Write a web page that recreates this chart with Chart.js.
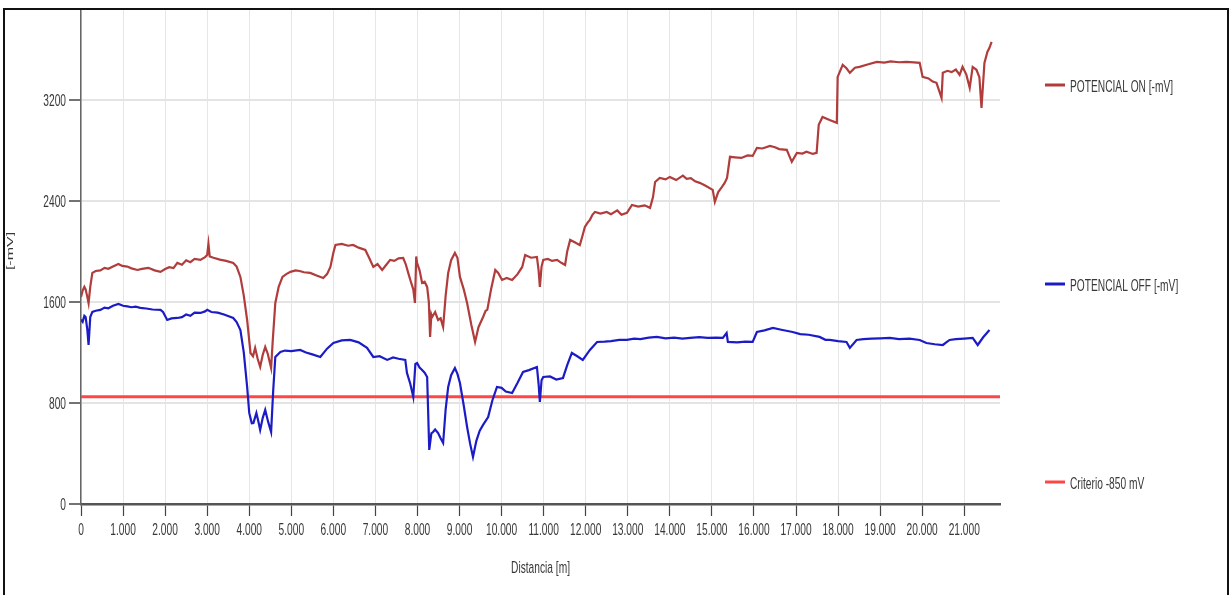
<!DOCTYPE html>
<html>
<head>
<meta charset="utf-8">
<script src="https://cdn.jsdelivr.net/npm/chart.js@4.4.1/dist/chart.umd.min.js"></script>
<style>
  html, body { margin: 0; padding: 0; background: #fff; }
  #wrap { position: relative; width: 1231px; height: 595px; overflow: hidden; }
  #frame {
    position: absolute; left: 3px; top: 8px; width: 1222px; height: 600px;
    border: 2px solid #111; pointer-events: none;
  }
</style>
</head>
<body>
<div id="wrap">
  <canvas id="grafico" width="1231" height="595"></canvas>
  <div id="frame"></div>
</div>
<script>
// Distancias [m] y potenciales [-mV]
const distOn = [0, 40, 80, 110, 150, 180, 220, 270, 350, 460, 560, 650, 760, 890, 980, 1100, 1200, 1340, 1450, 1600, 1750, 1890, 2000, 2100, 2200, 2290, 2400, 2500, 2600, 2700, 2840, 2950, 3000, 3030, 3060, 3150, 3300, 3450, 3620, 3700, 3790, 3870, 3950, 4030, 4090, 4140, 4200, 4260, 4320, 4380, 4440, 4520, 4560, 4620, 4700, 4790, 4880, 4980, 5100, 5200, 5300, 5450, 5600, 5760, 5850, 5930, 6000, 6050, 6200, 6350, 6470, 6600, 6760, 6850, 6950, 7050, 7160, 7250, 7350, 7450, 7550, 7660, 7720, 7780, 7830, 7900, 7940, 7970, 7990, 8050, 8110, 8170, 8230, 8270, 8300, 8330, 8350, 8420, 8490, 8550, 8610, 8670, 8730, 8800, 8890, 8950, 9010, 9100, 9180, 9280, 9370, 9450, 9560, 9620, 9660, 9750, 9850, 9920, 10010, 10120, 10250, 10380, 10490, 10560, 10700, 10840, 10880, 10910, 10950, 10990, 11100, 11200, 11320, 11420, 11510, 11560, 11630, 11750, 11860, 11920, 11980, 12050, 12100, 12160, 12220, 12350, 12500, 12600, 12750, 12850, 12980, 13100, 13250, 13400, 13530, 13600, 13650, 13760, 13900, 14000, 14150, 14310, 14400, 14500, 14600, 14710, 14850, 15020, 15070, 15150, 15240, 15300, 15360, 15430, 15550, 15700, 15850, 15970, 16070, 16200, 16380, 16500, 16600, 16780, 16900, 17020, 17150, 17250, 17400, 17490, 17540, 17630, 17800, 17970, 17990, 18110, 18200, 18280, 18400, 18510, 18700, 18920, 19100, 19250, 19450, 19630, 19800, 19940, 20010, 20150, 20250, 20340, 20460, 20490, 20600, 20700, 20800, 20890, 20960, 21050, 21130, 21200, 21290, 21360, 21410, 21480, 21550, 21600, 21650];
const potOn = [1640, 1690, 1720, 1700, 1640, 1590, 1720, 1830, 1845, 1850, 1870, 1862, 1880, 1900, 1885, 1880, 1866, 1853, 1862, 1870, 1850, 1838, 1860, 1875, 1868, 1909, 1895, 1930, 1915, 1940, 1933, 1955, 1972, 2060, 1960, 1950, 1935, 1925, 1909, 1880, 1798, 1650, 1457, 1196, 1170, 1236, 1150, 1085, 1180, 1244, 1190, 1077, 1300, 1592, 1720, 1798, 1820, 1838, 1850, 1845, 1835, 1830, 1810, 1790, 1820, 1877, 1990, 2051, 2060, 2045, 2051, 2030, 2012, 1950, 1877, 1900, 1853, 1890, 1933, 1925, 1945, 1948, 1900, 1830, 1774, 1700, 1592, 1960, 1909, 1850, 1750, 1760, 1719, 1600, 1323, 1500, 1481, 1520, 1457, 1470, 1402, 1650, 1830, 1930, 1988, 1950, 1798, 1700, 1592, 1420, 1283, 1400, 1481, 1530, 1537, 1700, 1853, 1830, 1774, 1790, 1774, 1820, 1877, 1972, 1950, 1956, 1850, 1719, 1880, 1933, 1940, 1925, 1933, 1910, 1893, 2000, 2091, 2070, 2050, 2120, 2194, 2230, 2250, 2290, 2313, 2300, 2312, 2295, 2325, 2290, 2305, 2368, 2355, 2365, 2345, 2430, 2550, 2582, 2570, 2590, 2565, 2600, 2575, 2580, 2555, 2543, 2520, 2487, 2392, 2470, 2511, 2540, 2582, 2749, 2745, 2740, 2760, 2756, 2820, 2815, 2835, 2825, 2810, 2804, 2709, 2780, 2775, 2790, 2772, 2780, 3002, 3065, 3040, 3018, 3382, 3477, 3450, 3414, 3455, 3461, 3480, 3501, 3495, 3505, 3498, 3501, 3497, 3493, 3382, 3370, 3345, 3335, 3216, 3414, 3430, 3420, 3440, 3398, 3461, 3400, 3295, 3461, 3438, 3380, 3137, 3493, 3580, 3612, 3660];

const distOff = [0, 40, 80, 110, 150, 180, 220, 270, 350, 460, 560, 650, 760, 890, 1000, 1100, 1200, 1300, 1410, 1550, 1700, 1890, 1950, 2050, 2150, 2290, 2400, 2500, 2600, 2700, 2840, 2950, 3000, 3100, 3250, 3400, 3620, 3700, 3790, 3870, 3950, 4000, 4060, 4100, 4170, 4220, 4260, 4320, 4380, 4450, 4520, 4570, 4620, 4740, 4850, 5000, 5210, 5350, 5500, 5690, 5850, 6000, 6200, 6400, 6600, 6800, 6950, 7100, 7280, 7420, 7550, 7710, 7750, 7830, 7900, 7950, 7990, 8050, 8110, 8170, 8230, 8280, 8330, 8370, 8420, 8490, 8550, 8610, 8670, 8730, 8800, 8890, 8950, 9010, 9100, 9180, 9250, 9320, 9400, 9480, 9560, 9680, 9780, 9890, 10000, 10100, 10250, 10380, 10510, 10650, 10840, 10880, 10910, 10950, 10990, 11150, 11300, 11460, 11560, 11670, 11800, 11930, 12100, 12270, 12450, 12600, 12800, 12980, 13150, 13300, 13500, 13690, 13900, 14100, 14300, 14480, 14700, 14900, 15100, 15260, 15350, 15380, 15600, 15800, 15970, 16070, 16250, 16450, 16650, 16920, 17100, 17300, 17560, 17700, 17800, 18000, 18200, 18280, 18440, 18600, 18800, 19000, 19230, 19450, 19700, 19940, 20100, 20300, 20490, 20650, 20800, 21000, 21200, 21320, 21450, 21600];
const potOff = [1460, 1442, 1490, 1481, 1380, 1259, 1480, 1521, 1530, 1537, 1555, 1550, 1570, 1584, 1570, 1565, 1558, 1562, 1553, 1548, 1540, 1537, 1520, 1457, 1470, 1473, 1480, 1500, 1490, 1515, 1513, 1525, 1537, 1520, 1515, 1500, 1473, 1440, 1378, 1200, 927, 721, 640, 642, 721, 650, 586, 680, 745, 650, 570, 900, 1164, 1204, 1215, 1210, 1220, 1200, 1185, 1164, 1230, 1275, 1295, 1299, 1280, 1236, 1164, 1170, 1141, 1160, 1150, 1141, 1038, 950, 848, 1110, 1117, 1080, 1061, 1040, 1006, 428, 560, 570, 590, 562, 520, 483, 750, 927, 1020, 1077, 1030, 958, 780, 610, 480, 372, 500, 580, 626, 689, 820, 927, 920, 890, 879, 960, 1046, 1060, 1085, 950, 808, 980, 1006, 1010, 985, 998, 1100, 1196, 1170, 1141, 1220, 1283, 1285, 1290, 1300, 1299, 1310, 1305, 1318, 1323, 1312, 1318, 1310, 1315, 1322, 1315, 1318, 1315, 1354, 1283, 1280, 1285, 1283, 1362, 1375, 1394, 1380, 1362, 1345, 1340, 1323, 1300, 1299, 1290, 1283, 1236, 1299, 1305, 1310, 1312, 1315, 1305, 1310, 1299, 1275, 1265, 1259, 1299, 1305, 1310, 1315, 1259, 1320, 1378];

const distCriterio = [0, 21850];
const potCriterio = [850, 850];

const ticksDistancia = [0, 1000, 2000, 3000, 4000, 5000, 6000, 7000, 8000, 9000, 10000, 11000, 12000, 13000, 14000, 15000, 16000, 17000, 18000, 19000, 20000, 21000];
const ticksPotencial = [0, 800, 1600, 2400, 3200];

const etiquetas = ['POTENCIAL ON [-mV]', 'POTENCIAL OFF [-mV]', 'Criterio -850 mV'];
const colores = ['#b03c3c', '#1c1cc6', '#ff4646'];

const fuente = "'Liberation Sans', Arial, sans-serif";
const colorTexto = '#383838';
const estrecho = 0.6; // el texto del original está comprimido en horizontal

const puntos = (xs, ys) => xs.map((x, i) => ({ x, y: ys[i] }));

// Escribe un texto comprimido horizontalmente
const texto = (ctx, str, x, y, align) => {
  ctx.save();
  ctx.translate(x, y);
  ctx.scale(estrecho, 1);
  ctx.textAlign = align;
  ctx.textBaseline = 'middle';
  ctx.fillText(str, 0, 0);
  ctx.restore();
};

const formatoMiles = (v) => v === 0 ? '0' : (v / 1000).toFixed(0) + '.000';

// Textos de ejes y leyenda lateral
const textos = {
  id: 'textos',
  afterDraw(chart) {
    const ctx = chart.ctx;
    const { x, y } = chart.scales;
    ctx.save();
    ctx.fillStyle = colorTexto;
    ctx.font = '17px ' + fuente;

    x.ticks.forEach((t) => texto(ctx, formatoMiles(t.value), x.getPixelForValue(t.value), 530, 'center'));
    y.ticks.forEach((t) => texto(ctx, String(t.value), 66, y.getPixelForValue(t.value) + 1, 'right'));

    texto(ctx, 'Distancia [m]', (x.left + x.right) / 2, 568, 'center');

    ctx.save();
    ctx.translate(10, 251);
    ctx.rotate(-Math.PI / 2);
    ctx.scale(1, estrecho);
    ctx.textAlign = 'center';
    ctx.textBaseline = 'middle';
    ctx.font = '16px ' + fuente;
    ctx.fillText('[-mV]', 0, 0);
    ctx.restore();

    const filas = [86, 285, 483];
    chart.data.datasets.forEach((ds, i) => {
      const fy = filas[i];
      ctx.strokeStyle = ds.borderColor;
      ctx.lineWidth = 3;
      ctx.beginPath();
      ctx.moveTo(1045, fy - 1);
      ctx.lineTo(1065, fy - 1);
      ctx.stroke();
      ctx.fillStyle = colorTexto;
      texto(ctx, ds.label, 1070, fy + 1, 'left');
    });
    ctx.restore();
  }
};

new Chart(document.getElementById('grafico'), {
  type: 'line',
  data: {
    datasets: [
      { label: etiquetas[0], data: puntos(distOn, potOn), borderColor: colores[0], borderWidth: 2.2 },
      { label: etiquetas[1], data: puntos(distOff, potOff), borderColor: colores[1], borderWidth: 2.2 },
      { label: etiquetas[2], data: puntos(distCriterio, potCriterio), borderColor: colores[2], borderWidth: 3 }
    ]
  },
  options: {
    responsive: false,
    animation: false,
    elements: { point: { radius: 0 }, line: { tension: 0 } },
    layout: { padding: { top: 10, right: 231, left: 0, bottom: 0 } },
    plugins: { legend: { display: false }, tooltip: { enabled: false } },
    scales: {
      x: {
        type: 'linear',
        min: 0,
        max: 21850,
        afterBuildTicks: (s) => { s.ticks = ticksDistancia.map((v) => ({ value: v })); },
        afterFit: (s) => { s.height = 91; },
        ticks: { color: 'transparent', autoSkip: false, maxRotation: 0 },
        grid: { color: '#e6e6e6', lineWidth: 1, tickColor: '#444', tickLength: 12, tickWidth: 1.2 },
        border: { color: '#555', width: 2.5 }
      },
      y: {
        min: 0,
        max: 3910,
        afterBuildTicks: (s) => { s.ticks = ticksPotencial.map((v) => ({ value: v })); },
        afterFit: (s) => { s.width = 81; },
        ticks: { color: 'transparent' },
        grid: { color: '#e4e4e4', lineWidth: 2, tickColor: '#444', tickLength: 12, tickWidth: 1.5 },
        border: { color: '#666', width: 1.5 }
      }
    }
  },
  plugins: [textos]
});
</script>
</body>
</html>
